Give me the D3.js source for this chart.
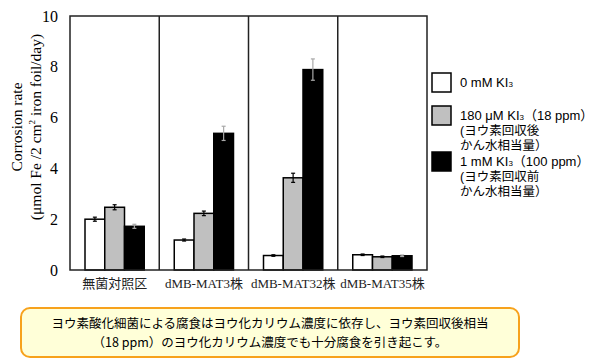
<!DOCTYPE html>
<html>
<head>
<meta charset="utf-8">
<script src="https://cdn.jsdelivr.net/npm/d3@7"></script>
<style>
  body { margin: 0; background: #fff; }
  svg { display: block; }
</style>
</head>
<body>
<div id="chart"></div>
<script>
// groups (strains) and series (KI3 concentration)
var categories = ["無菌対照区", "dMB-MAT3株", "dMB-MAT32株", "dMB-MAT35株"];
var seriesNames = ["0 mM", "180 uM", "1 mM"];
var values0 = [2.0, 1.18, 0.57, 0.6];
var values180 = [2.47, 2.23, 3.63, 0.52];
var values1000 = [1.72, 5.38, 7.89, 0.56];
var err0 = [0.08, 0.04, 0.03, 0.03];
var err180 = [0.1, 0.09, 0.18, 0.03];
var err1000 = [0.08, 0.28, 0.42, 0.03];
var yTicks = [0, 2, 4, 6, 8, 10];

var colors = ["#ffffff", "#c0c0c0", "#000000"];
var errColors = ["#000000", "#000000", "#a8a8a8"];

var W = 600, H = 359;
var margin = {top: 16, left: 70, right: 173, bottom: 89};
var w = W - margin.left - margin.right;
var h = H - margin.top - margin.bottom;

var svg = d3.select("#chart").append("svg")
    .attr("width", W)
    .attr("height", H);

var g = svg.append("g")
    .attr("transform", "translate(" + margin.left + "," + margin.top + ")");

var x0 = d3.scaleBand().domain(categories).range([0, w]).paddingInner(0).paddingOuter(0);
var x1 = d3.scaleBand().domain(seriesNames).range([15, x0.bandwidth() - 15]);
var y = d3.scaleLinear().domain([0, 10]).range([h, 0]);

var allVals = [values0, values180, values1000];
var allErr = [err0, err180, err1000];

// bars
var data = [];
categories.forEach(function(c, i) {
    seriesNames.forEach(function(s, j) {
        data.push({cat: c, ser: s, j: j, v: allVals[j][i], e: allErr[j][i]});
    });
});

g.selectAll("rect.bar")
    .data(data)
    .enter()
    .append("rect")
    .attr("class", "bar")
    .attr("x", function(d) { return x0(d.cat) + x1(d.ser); })
    .attr("y", function(d) { return y(d.v); })
    .attr("width", x1.bandwidth())
    .attr("height", function(d) { return h - y(d.v); })
    .attr("fill", function(d) { return colors[d.j]; })
    .attr("stroke", "#000")
    .attr("stroke-width", 1.5);

// error bars
var eb = g.selectAll("g.err")
    .data(data)
    .enter()
    .append("g")
    .attr("class", "err")
    .attr("stroke", function(d) { return errColors[d.j]; })
    .attr("stroke-width", 1.2);

eb.append("line")
    .attr("x1", function(d) { return x0(d.cat) + x1(d.ser) + x1.bandwidth() / 2; })
    .attr("x2", function(d) { return x0(d.cat) + x1(d.ser) + x1.bandwidth() / 2; })
    .attr("y1", function(d) { return y(d.v + d.e); })
    .attr("y2", function(d) { return y(d.v - d.e); });

[1, -1].forEach(function(sgn) {
    eb.append("line")
        .attr("x1", function(d) { return x0(d.cat) + x1(d.ser) + x1.bandwidth() / 2 - 2; })
        .attr("x2", function(d) { return x0(d.cat) + x1(d.ser) + x1.bandwidth() / 2 + 2; })
        .attr("y1", function(d) { return y(d.v + sgn * d.e); })
        .attr("y2", function(d) { return y(d.v + sgn * d.e); });
});

// frame and group dividers
g.append("rect")
    .attr("x", 0).attr("y", 0)
    .attr("width", w).attr("height", h)
    .attr("fill", "none")
    .attr("stroke", "#222")
    .attr("stroke-width", 1.5);

g.selectAll("line.div")
    .data(categories.slice(1))
    .enter()
    .append("line")
    .attr("class", "div")
    .attr("x1", function(d) { return x0(d); })
    .attr("x2", function(d) { return x0(d); })
    .attr("y1", 0).attr("y2", h)
    .attr("stroke", "#222")
    .attr("stroke-width", 1.5);

// y axis labels
var yAxis = d3.axisLeft(y).tickValues(yTicks).tickSize(0).tickPadding(12);
var ya = g.append("g").call(yAxis);
ya.select(".domain").remove();
ya.selectAll("text")
    .attr("font-family", "'Liberation Serif', 'Times New Roman', serif")
    .attr("font-size", 16)
    .attr("fill", "#000");

// x category labels
var xAxis = d3.axisBottom(x0).tickSize(0).tickPadding(9);
var xa = g.append("g").attr("transform", "translate(0," + h + ")").call(xAxis);
xa.select(".domain").remove();
xa.selectAll("text")
    .attr("font-family", "'Liberation Serif', 'Noto Sans CJK JP', serif")
    .attr("font-size", 13)
    .attr("fill", "#222");

// y title
var yt = svg.append("text")
    .attr("transform", "translate(22,127) rotate(-90)")
    .attr("text-anchor", "middle")
    .attr("font-family", "'Liberation Serif', 'Times New Roman', serif")
    .attr("font-size", 15.5)
    .attr("fill", "#000");
yt.append("tspan").attr("x", 0).attr("y", 0).text("Corrosion rate");
var yt2 = yt.append("tspan").attr("x", 0).attr("y", 19);
yt2.append("tspan").text("(μmol Fe /2 cm");
yt2.append("tspan").attr("font-size", 9).attr("dy", -6).text("2");
yt2.append("tspan").attr("dy", 6).text(" iron foil/day)");

// legend
var legendItems = [
    {lines: [["0 mM KI", "3", ""]], y: 73},
    {lines: [["180 μM KI", "3", "（18 ppm）"], ["(ヨウ素回収後"], ["かん水相当量）"]], y: 106},
    {lines: [["1 mM KI", "3", "（100 ppm）"], ["(ヨウ素回収前"], ["かん水相当量）"]], y: 152}
];
var lg = svg.append("g").attr("transform", "translate(432,0)");
legendItems.forEach(function(item, i) {
    lg.append("rect")
        .attr("x", 0).attr("y", item.y)
        .attr("width", 19).attr("height", 19)
        .attr("fill", colors[i])
        .attr("stroke", "#000")
        .attr("stroke-width", 1.5);
    item.lines.forEach(function(ln, k) {
        var t = lg.append("text")
            .attr("x", 28)
            .attr("y", item.y + 14 + k * 15)
            .attr("font-family", "'Liberation Sans', Arial, 'Noto Sans CJK JP', sans-serif")
            .attr("font-size", k === 0 ? 13 : 12.5)
            .attr("fill", "#000");
        t.append("tspan").text(ln[0]);
        if (ln.length > 1) {
            t.append("tspan").attr("font-size", 8).text(ln[1]);
            t.append("tspan").text(ln[2]);
        }
    });
});

// bottom note box
svg.append("rect")
    .attr("x", 21).attr("y", 308)
    .attr("width", 498).attr("height", 49)
    .attr("rx", 9).attr("ry", 9)
    .attr("fill", "#ffffd8")
    .attr("stroke", "#f7a21c")
    .attr("stroke-width", 2);

var note = svg.append("text")
    .attr("text-anchor", "middle")
    .attr("font-family", "'Noto Sans CJK JP', sans-serif")
    .attr("font-size", 12.5)
    .attr("fill", "#000");
note.append("tspan").attr("x", 270).attr("y", 328)
    .text("ヨウ素酸化細菌による腐食はヨウ化カリウム濃度に依存し、ヨウ素回収後相当");
note.append("tspan").attr("x", 270).attr("y", 347)
    .text("（18 ppm）のヨウ化カリウム濃度でも十分腐食を引き起こす。");
</script>
</body>
</html>
